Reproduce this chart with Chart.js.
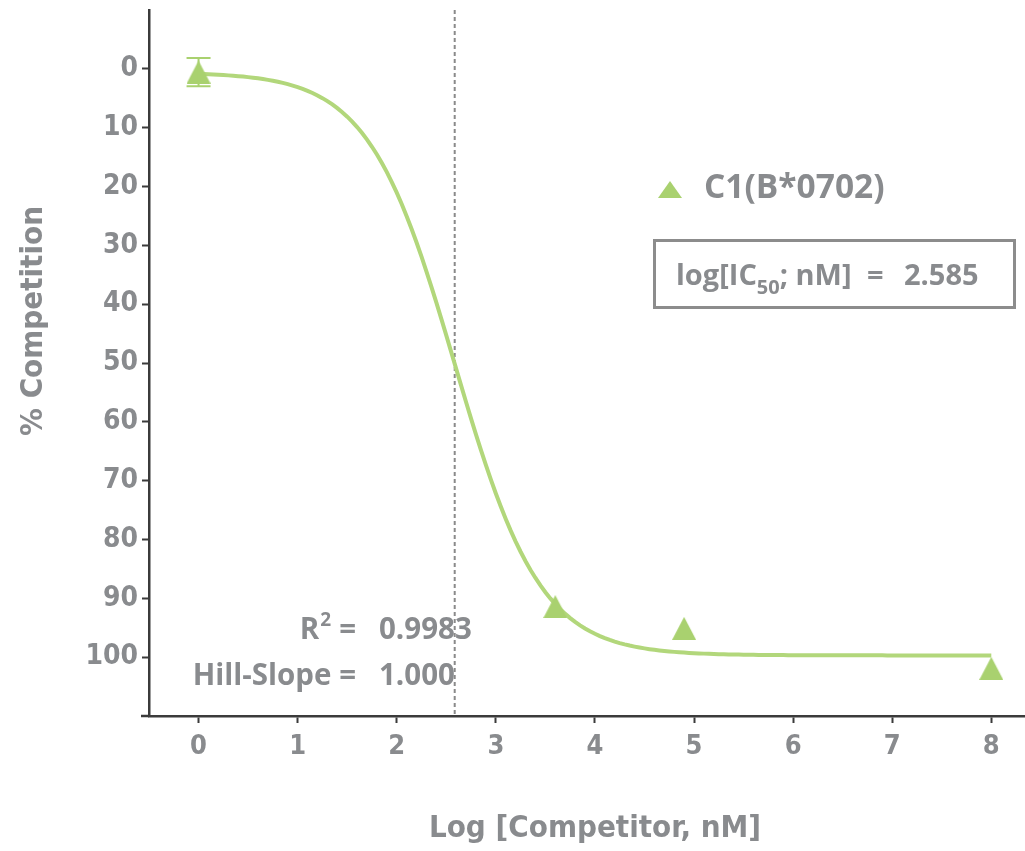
<!DOCTYPE html>
<html>
<head>
<meta charset="utf-8">
<script src="https://cdn.jsdelivr.net/npm/chart.js@4.4.1/dist/chart.umd.min.js"></script>
<style>
  html, body { margin: 0; background: #fff; }
</style>
</head>
<body>
<canvas id="graph" width="1025" height="851"></canvas>
<script>
// measured points: log dose vs % competition
const doseLog = [0, 3.6, 4.9, 8];
const competition = [0.55, 91.4, 95.1, 101.9];
const errorBar = [2.4, 0, 0, 0];

const xTicks = [0, 1, 2, 3, 4, 5, 6, 7, 8];
const yTicks = [0, 10, 20, 30, 40, 50, 60, 70, 80, 90, 100];
const xRange = [-0.5, 8.34];
const yRange = [-10, 110];

// four-parameter fit
const seriesName = 'C1(B*0702)';
const logIC50 = 2.585;
const hillSlope = 1.0;
const fitBottom = 0.6;
const fitTop = 99.7;
const rSquared = '0.9983';

const GREEN = '#a9d16f';
const GREY = '#898b8e';
const AXIS = '#3b3b3b';
const FONT = '"Open Sans", Lato, sans-serif';
const NARROW = '"DejaVu Sans Condensed", sans-serif';

const fitCurve = [];
for (let i = 0; i <= 160; i++) {
  const x = i * 0.05;
  fitCurve.push({ x: x, y: fitBottom + (fitTop - fitBottom) / (1 + Math.pow(10, (logIC50 - x) * hillSlope)) });
}

// triangle marker centred on its bounding box (chart.js centres on the centroid)
function makeTriangle(w, h) {
  const c = document.createElement('canvas');
  c.width = w; c.height = h;
  const g = c.getContext('2d');
  g.fillStyle = GREEN;
  g.beginPath();
  g.moveTo(0, h); g.lineTo(w, h); g.lineTo(w / 2, 0);
  g.closePath();
  g.fill();
  return c;
}
const marker = makeTriangle(24, 23);

const extras = {
  id: 'extras',
  beforeDatasetsDraw(chart) {
    const { ctx, chartArea, scales } = chart;
    const px = scales.x.getPixelForValue(logIC50);
    ctx.save();
    ctx.strokeStyle = '#8a8a8a';
    ctx.lineWidth = 2;
    ctx.setLineDash([4, 3]);
    ctx.beginPath();
    ctx.moveTo(px, chartArea.top);
    ctx.lineTo(px, chartArea.bottom);
    ctx.stroke();
    ctx.restore();
    // x axis runs a little past the y axis
    ctx.save();
    ctx.strokeStyle = AXIS;
    ctx.lineWidth = 2.5;
    ctx.beginPath();
    ctx.moveTo(chartArea.left - 8, chartArea.bottom);
    ctx.lineTo(chartArea.left, chartArea.bottom);
    ctx.stroke();
    ctx.restore();
  },
  afterDatasetsDraw(chart) {
    const { ctx, scales } = chart;
    ctx.save();
    ctx.strokeStyle = GREEN;
    ctx.lineWidth = 2;
    doseLog.forEach((d, i) => {
      if (!errorBar[i]) return;
      const x = scales.x.getPixelForValue(d);
      const y1 = scales.y.getPixelForValue(competition[i] - errorBar[i]);
      const y2 = scales.y.getPixelForValue(competition[i] + errorBar[i]);
      ctx.beginPath();
      ctx.moveTo(x, y1); ctx.lineTo(x, y2);
      ctx.moveTo(x - 12, y1); ctx.lineTo(x + 12, y1);
      ctx.moveTo(x - 12, y2); ctx.lineTo(x + 12, y2);
      ctx.stroke();
    });
    ctx.restore();
  },
  afterDraw(chart) {
    const { ctx } = chart;
    ctx.save();
    ctx.fillStyle = GREY;

    // axis titles
    ctx.font = 'bold 31px ' + NARROW;
    ctx.textAlign = 'center';
    ctx.textBaseline = 'middle';
    ctx.fillText('Log [Competitor, nM]', 595, 829);
    ctx.save();
    ctx.translate(34, 321);
    ctx.rotate(-Math.PI / 2);
    ctx.font = 'bold 31px ' + NARROW;
    ctx.fillText('% Competition', 0, 0);
    ctx.restore();

    // legend
    ctx.drawImage(makeTriangle(24, 17), 658, 181);
    ctx.textAlign = 'left';
    ctx.textBaseline = 'alphabetic';
    ctx.font = 'bold 33.5px ' + FONT;
    ctx.fillText(seriesName, 704, 198);

    // IC50 box
    ctx.strokeStyle = '#8c8c8c';
    ctx.lineWidth = 3;
    ctx.strokeRect(654.5, 240.5, 360, 67);
    ctx.font = 'bold 29px ' + FONT;
    let x = 676;
    ctx.fillText('log[IC', x, 285);
    x += ctx.measureText('log[IC').width;
    ctx.font = 'bold 20px ' + FONT;
    ctx.fillText('50', x, 294);
    x += ctx.measureText('50').width;
    ctx.font = 'bold 29px ' + FONT;
    ctx.fillText('; nM]', x, 285);
    ctx.fillText('=', 867, 285);
    ctx.fillText(logIC50.toFixed(3), 904, 285);

    // fit stats
    ctx.font = 'bold 29.5px ' + FONT;
    ctx.textAlign = 'right';
    ctx.fillText('=', 356, 639);
    ctx.fillText('Hill-Slope =', 356, 685);
    const eqW = ctx.measureText('=').width;
    ctx.fillText('R', 356 - eqW - 20, 639);
    ctx.font = 'bold 19px ' + FONT;
    ctx.textAlign = 'left';
    ctx.fillText('2', 356 - eqW - 19, 626);
    ctx.font = 'bold 29.5px ' + FONT;
    ctx.fillText(rSquared, 379, 639);
    ctx.fillText(hillSlope.toFixed(3), 379, 685);
    ctx.restore();
  }
};

new Chart(document.getElementById('graph'), {
  type: 'scatter',
  data: {
    datasets: [
      {
        label: seriesName,
        data: doseLog.map((d, i) => ({ x: d, y: competition[i] })),
        pointStyle: marker,
        pointRadius: 12,
        backgroundColor: GREEN,
        borderWidth: 0,
        clip: false,
        order: 0
      },
      {
        label: 'fit',
        data: fitCurve,
        showLine: true,
        pointRadius: 0,
        borderColor: '#b2d77b',
        borderWidth: 4,
        tension: 0,
        order: 1
      }
    ]
  },
  options: {
    responsive: false,
    animation: false,
    devicePixelRatio: 1,
    layout: { autoPadding: false, padding: { top: 10, right: 0, left: 0, bottom: 0 } },
    plugins: { legend: { display: false }, tooltip: { enabled: false } },
    scales: {
      x: {
        type: 'linear',
        min: xRange[0],
        max: xRange[1],
        afterBuildTicks: s => {
          s.ticks = xTicks.map(v => ({ value: v }));
          s.min = xRange[0]; s.max = xRange[1];
        },
        afterFit: s => { s.height = 135; s.paddingLeft = 0; s.paddingRight = 0; },
        grid: { drawOnChartArea: false, tickLength: 7, tickColor: AXIS, tickWidth: 2 },
        border: { color: AXIS, width: 2.5 },
        ticks: { color: GREY, padding: 8, font: { family: NARROW, size: 27, weight: 'bold' } }
      },
      y: {
        reverse: true,
        min: yRange[0],
        max: yRange[1],
        afterBuildTicks: s => {
          s.ticks = yTicks.map(v => ({ value: v }));
          s.min = yRange[0]; s.max = yRange[1];
        },
        afterFit: s => { s.width = 149; s.paddingTop = 0; s.paddingBottom = 0; },
        grid: { drawOnChartArea: false, tickLength: 7, tickColor: AXIS, tickWidth: 2 },
        border: { color: AXIS, width: 2.5 },
        ticks: { color: GREY, padding: 4, font: { family: NARROW, size: 28, weight: 'bold' } }
      }
    }
  },
  plugins: [extras]
});
</script>
</body>
</html>
